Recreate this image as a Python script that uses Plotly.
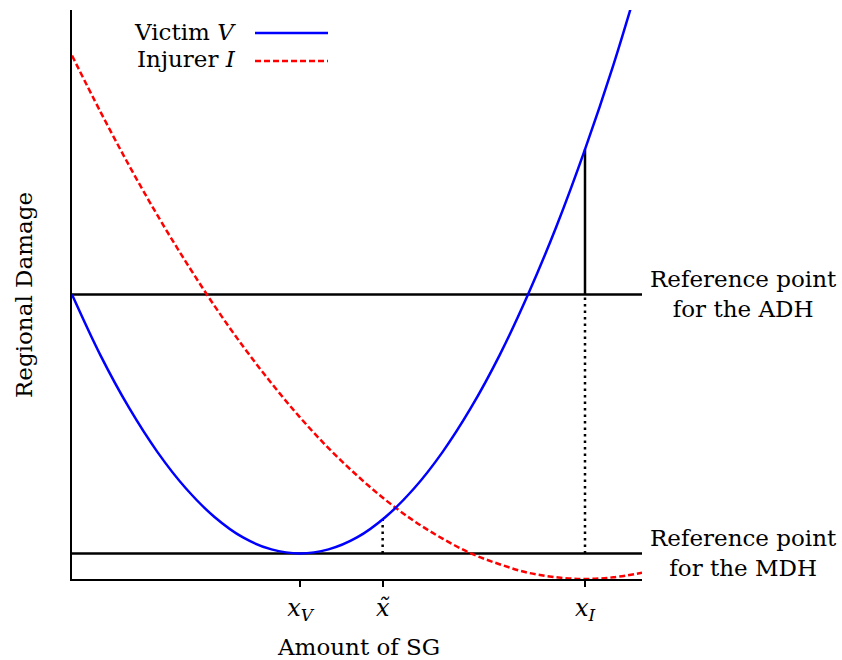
import plotly.graph_objects as go

# Sampled curve values (amount of SG vs regional damage)
x_pts = [0, 0.5, 1, 1.5, 2, 2.5, 3, 3.5, 4, 4.5, 5, 5.5, 6, 6.5, 7, 7.5, 8, 8.5, 9, 9.5, 10]
victim = [5.0, 3.93, 3.01, 2.23, 1.59, 1.09, 0.73, 0.52, 0.45, 0.52, 0.73, 1.09, 1.59,
          2.23, 3.01, 3.93, 5.0, 6.2, 7.55, 9.04, 10.7]
injurer = [9.2, 8.21, 7.27, 6.39, 5.57, 4.8, 4.09, 3.44, 2.84, 2.3, 1.82, 1.39, 1.02,
           0.71, 0.45, 0.26, 0.11, 0.03, 0.0, 0.03, 0.11]

# Key points on the SG axis and reference levels
x_V = 4.0
x_tilde = 5.45
x_I = 9.0
x_max = 10.0
adh_level = 5.0
mdh_level = 0.45
victim_at_tilde = 1.05
victim_at_xI = 7.55

tick_vals = [x_V, x_tilde, x_I]
tick_text = ["<i>x</i><sub><i>V</i></sub>", "<i>x̃</i>", "<i>x</i><sub><i>I</i></sub>"]

FONT = "'DejaVu Serif', serif"
FS = 23

fig = go.Figure()

# Reference lines
fig.add_trace(go.Scatter(x=[0, x_max], y=[adh_level, adh_level], mode="lines",
                         line=dict(color="black", width=2.5), showlegend=False, hoverinfo="skip"))
fig.add_trace(go.Scatter(x=[0, x_max], y=[mdh_level, mdh_level], mode="lines",
                         line=dict(color="black", width=2.5), showlegend=False, hoverinfo="skip"))

# Vertical guides
fig.add_trace(go.Scatter(x=[x_I, x_I], y=[adh_level, victim_at_xI], mode="lines",
                         line=dict(color="black", width=2.5), showlegend=False, hoverinfo="skip"))
fig.add_trace(go.Scatter(x=[x_I, x_I], y=[mdh_level, adh_level], mode="lines",
                         line=dict(color="black", width=2.5, dash="2.5px,4px"), showlegend=False,
                         hoverinfo="skip"))
fig.add_trace(go.Scatter(x=[x_tilde, x_tilde], y=[mdh_level, victim_at_tilde], mode="lines",
                         line=dict(color="black", width=2.5, dash="2.5px,4px"), showlegend=False,
                         hoverinfo="skip"))

# Damage curves
fig.add_trace(go.Scatter(x=x_pts, y=injurer, mode="lines", line_shape="spline",
                         line=dict(color="red", width=2.5, dash="6px,3px"), showlegend=False))
fig.add_trace(go.Scatter(x=x_pts, y=victim, mode="lines", line_shape="spline",
                         line=dict(color="blue", width=2.5), showlegend=False))

L, R, T, B = 72, 200, 10, 81
W, H = 842, 660
pw, ph = W - L - R, H - T - B


def px(xp):
    return (xp - L) / pw


def py(yp):
    return (H - B - yp) / ph


annotations = [
    dict(text="Victim <i>V</i>", x=px(238), y=py(32), xanchor="right", yanchor="middle"),
    dict(text="Injurer <i>I</i>", x=px(238), y=py(59), xanchor="right", yanchor="middle"),
    dict(text="Reference point<br>for the ADH", x=px(744), y=py(294), xanchor="center",
         yanchor="middle", align="center"),
    dict(text="Reference point<br>for the MDH", x=px(744), y=py(553), xanchor="center",
         yanchor="middle", align="center"),
    dict(text="Amount of SG", x=px(358), y=py(647), xanchor="center", yanchor="middle"),
    dict(text="Regional Damage", x=px(24), y=py(295), xanchor="center", yanchor="middle",
         textangle=-90),
]
for a in annotations:
    a.update(xref="paper", yref="paper", showarrow=False, font=dict(family=FONT, size=FS, color="black"))

shapes = [
    dict(type="line", xref="paper", yref="paper", x0=px(255), x1=px(328), y0=py(33), y1=py(33),
         line=dict(color="blue", width=2.5)),
    dict(type="line", xref="paper", yref="paper", x0=px(255), x1=px(328), y0=py(61), y1=py(61),
         line=dict(color="red", width=2.5, dash="6px,3px")),
]

fig.update_layout(
    width=W, height=H,
    margin=dict(l=L, r=R, t=T, b=B),
    paper_bgcolor="white", plot_bgcolor="white",
    annotations=annotations, shapes=shapes,
    font=dict(family=FONT, size=FS, color="black"),
    xaxis=dict(range=[0, x_max], showgrid=False, zeroline=False, showline=True,
               linecolor="black", linewidth=1.5, ticks="outside", ticklen=6, tickwidth=1.5,
               tickcolor="black", tickvals=tick_vals, ticktext=tick_text,
               tickfont=dict(family=FONT, size=24)),
    yaxis=dict(range=[0, 10], showgrid=False, zeroline=False, showline=True,
               linecolor="black", linewidth=2, showticklabels=False, ticks=""),
)

fig.write_html("out.html")
